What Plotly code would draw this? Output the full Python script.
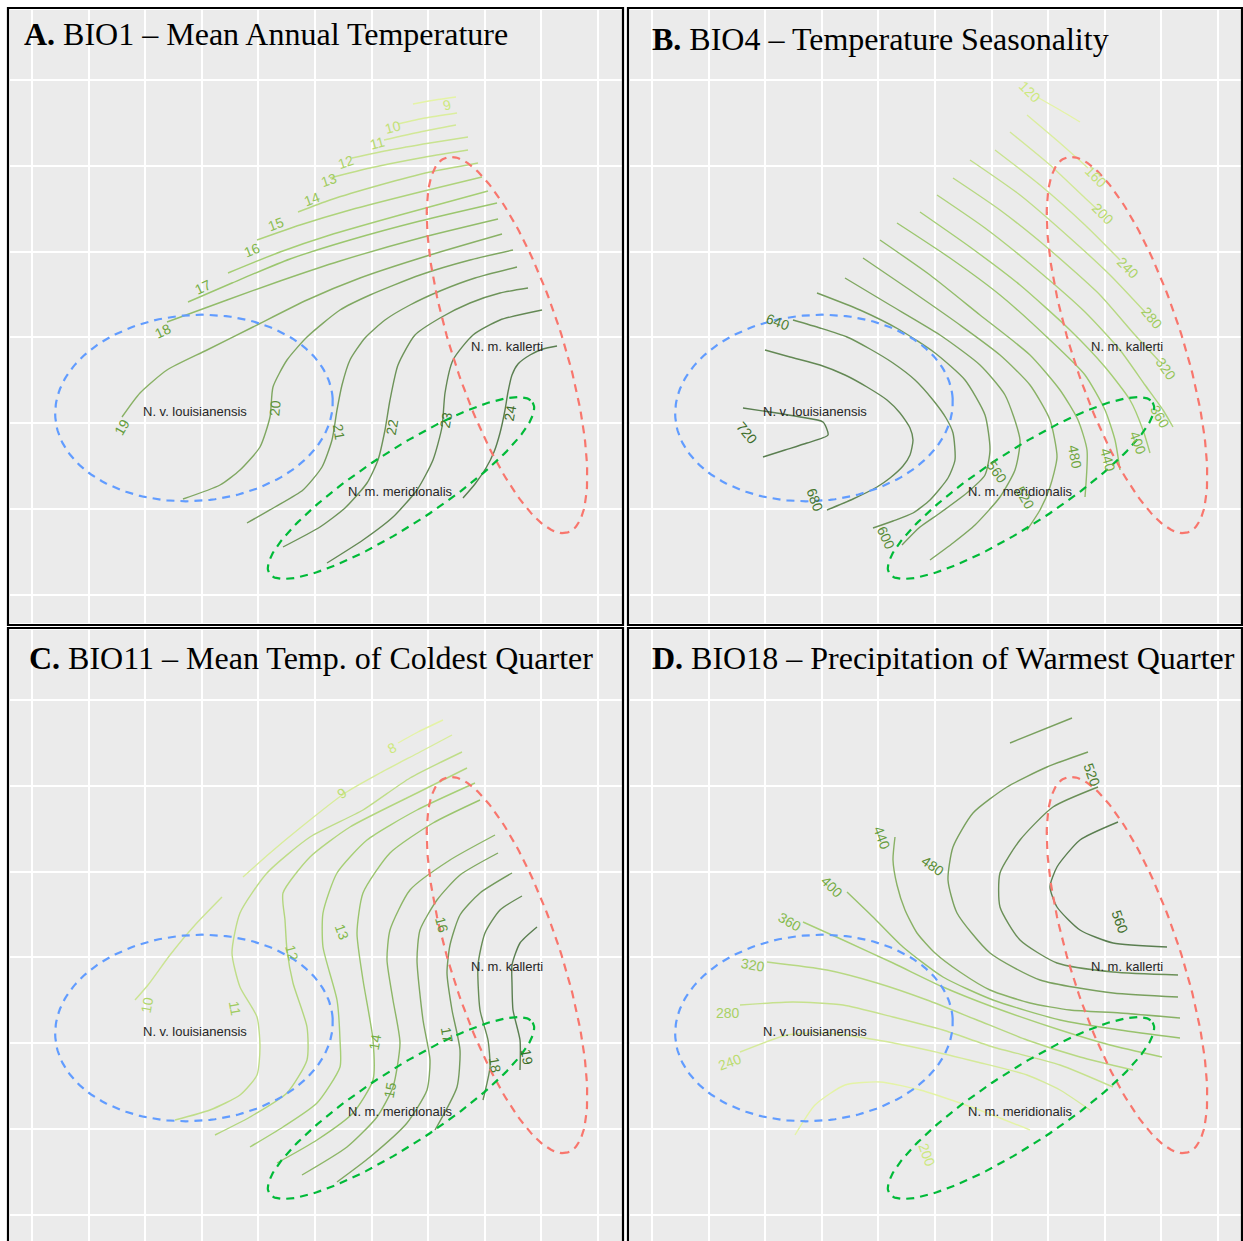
import math
import plotly.graph_objects as go

W, H = 1243, 1241

# ---------------- data (map grid units, identical extent in all four panels) ----------------
# BIO1 - mean annual temperature contours: level -> polyline
BIO1_LINES = {
    9: [(413, 104), (435, 100), (456, 97)],
    10: [(398, 124), (425, 118), (457, 113)],
    11: [(384, 140), (420, 132), (456, 125)],
    12: [(352, 158), (390, 150), (430, 143), (468, 137)],
    13: [(330, 178), (370, 168), (420, 158), (468, 150)],
    14: [(298, 212), (330, 200), (380, 185), (430, 172), (478, 163)],
    15: [(257, 240), (300, 225), (350, 210), (420, 192), (482, 177)],
    16: [(228, 273), (280, 252), (330, 235), (400, 215), (488, 191)],
    17: [(188, 302), (232, 283), (290, 259), (350, 240), (420, 221), (497, 203)],
    18: [(167, 322), (227, 300), (280, 281), (340, 261), (420, 238), (498, 219)],
    19: [(122, 417), (140, 393), (167, 370), (207, 350), (253, 327), (307, 300), (360, 278), (430, 255), (502, 234)],
    20: [(183, 499), (220, 485), (240, 470), (260, 447), (270, 417), (273, 387), (287, 360), (307, 337),
         (340, 310), (370, 295), (420, 275), (470, 260), (513, 250)],
    21: [(247, 523), (275, 507), (303, 490), (322, 467), (332, 440), (337, 410), (342, 385), (350, 360),
         (365, 338), (385, 320), (410, 305), (440, 291), (475, 278), (517, 267)],
    22: [(283, 547), (320, 527), (345, 508), (367, 483), (378, 460), (385, 430), (390, 400), (398, 365),
         (415, 335), (440, 318), (470, 303), (500, 293), (528, 288)],
    23: [(327, 563), (363, 540), (393, 517), (417, 490), (433, 460), (442, 427), (445, 393), (453, 360),
         (473, 335), (500, 320), (542, 310)],
    24: [(463, 498), (475, 484), (486, 468), (494, 452), (500, 433), (505, 410), (508, 392), (512, 375),
         (518, 364), (530, 355), (543, 349), (557, 346)],
}
BIO1_LABELS = [(9, 447, 105), (10, 393, 127), (11, 377, 143), (12, 346, 162), (13, 329, 180),
               (14, 312, 199), (15, 276, 224), (16, 252, 250), (17, 203, 287), (18, 163, 331),
               (19, 122, 427), (20, 275, 408), (21, 339, 432), (22, 392, 427), (23, 446, 420), (24, 510, 413)]
BIO1_LABEL_ANGLES = [-15, -15, -15, -18, -18, -20, -20, -22, -25, -25, -60, -85, 80, -80, -80, -80]

# BIO4 - temperature seasonality
BIO4_LINES = {
    120: [(417, 97), (440, 110), (460, 122)],
    160: [(407, 115), (440, 143), (468, 168)],
    200: [(390, 132), (430, 165), (465, 198), (478, 210)],
    240: [(375, 150), (420, 185), (465, 225), (500, 260)],
    280: [(350, 160), (400, 195), (450, 238), (490, 275), (525, 312)],
    320: [(333, 178), (380, 210), (430, 250), (480, 295), (515, 335), (540, 362)],
    360: [(317, 195), (365, 228), (415, 268), (465, 312), (500, 350), (525, 385), (543, 410), (553, 427)],
    400: [(300, 212), (350, 247), (400, 285), (450, 330), (485, 367), (510, 400), (523, 430), (530, 453)],
    440: [(277, 223), (330, 258), (380, 295), (430, 340), (465, 375), (485, 410), (495, 440), (500, 470)],
    480: [(260, 240), (310, 275), (360, 315), (410, 355), (440, 390), (458, 420), (467, 450), (465, 497)],
    520: [(243, 258), (290, 290), (340, 325), (380, 355), (410, 385), (430, 420), (437, 457), (430, 487),
          (420, 510), (407, 530)],
    560: [(225, 278), (270, 305), (320, 335), (360, 365), (385, 395), (400, 440), (395, 470), (380, 497),
          (355, 525), (333, 543), (310, 560)],
    600: [(197, 293), (240, 310), (280, 330), (315, 353), (345, 380), (365, 415), (370, 450), (365, 475),
          (348, 492), (320, 513), (300, 527), (282, 545)],
    640: [(173, 320), (200, 328), (227, 337), (250, 349), (273, 363), (295, 380), (313, 400), (326, 418),
          (333, 433), (335, 460), (328, 478), (310, 500), (293, 513), (273, 521), (253, 528)],
    680: [(145, 350), (170, 357), (200, 365), (225, 375), (247, 387), (267, 400), (280, 413), (290, 428),
          (293, 440), (290, 455), (283, 466), (270, 478), (257, 487), (233, 499), (207, 510)],
    720: [(123, 408), (150, 412), (180, 417), (203, 422), (208, 435), (187, 443), (165, 450), (143, 457)],
}
BIO4_LABELS = [(120, 410, 92), (160, 476, 177), (200, 483, 214), (240, 508, 268), (280, 532, 318),
               (320, 546, 369), (360, 540, 417), (400, 518, 443), (440, 488, 460), (480, 455, 457),
               (520, 405, 498), (560, 377, 472), (600, 266, 538), (640, 158, 322), (680, 195, 500),
               (720, 127, 433)]
BIO4_LABEL_ANGLES = [45, 45, 45, 45, 50, 55, 60, 70, 75, 80, 60, 55, 65, 20, 70, 50]

# BIO11 - mean temperature of coldest quarter
BIO11_LINES = {
    8: [(443, 100), (418, 112), (398, 123)],
    9: [(452, 115), (420, 132), (380, 153), (345, 173), (300, 208), (270, 233), (243, 257)],
    10: [(222, 277), (195, 305), (170, 335), (148, 365), (135, 380)],
    11: [(462, 132), (410, 158), (363, 190), (310, 217), (267, 253), (240, 293), (232, 333), (240, 367),
         (257, 397), (260, 427), (257, 455), (240, 475), (210, 490), (175, 500)],
    12: [(467, 148), (417, 173), (350, 207), (310, 237), (283, 273), (285, 300), (287, 330), (293, 363),
         (307, 407), (307, 440), (287, 473), (250, 497), (215, 515)],
    13: [(475, 163), (417, 190), (367, 220), (337, 253), (323, 293), (323, 327), (337, 380), (340, 420),
         (340, 447), (317, 483), (283, 507), (250, 527)],
    14: [(480, 180), (433, 203), (390, 233), (363, 273), (357, 313), (363, 360), (373, 420), (373, 460),
         (353, 493), (317, 520), (277, 543)],
    15: [(495, 215), (450, 240), (410, 270), (390, 310), (387, 340), (393, 380), (400, 423), (393, 467),
         (377, 497), (347, 527), (302, 555)],
    16: [(498, 233), (460, 255), (437, 280), (420, 310), (417, 340), (423, 400), (430, 440), (427, 470),
         (407, 503), (370, 537), (337, 562)],
    17: [(512, 253), (480, 273), (460, 295), (450, 325), (447, 353), (452, 390), (460, 430), (457, 467),
         (435, 510)],
    18: [(522, 276), (500, 290), (485, 313), (478, 345), (480, 390), (488, 420), (490, 447), (483, 480)],
    19: [(537, 307), (520, 323), (512, 345), (512, 363), (513, 390), (520, 420), (520, 450)],
}
BIO11_LABELS = [(8, 392, 128), (9, 342, 173), (10, 147, 385), (11, 235, 388), (12, 292, 333),
                (13, 342, 312), (14, 375, 422), (15, 390, 470), (16, 442, 305), (17, 447, 415),
                (18, 495, 445), (19, 527, 437)]
BIO11_LABEL_ANGLES = [-27, -35, -80, 80, 75, 70, -80, -80, 75, 80, 80, 80]

# BIO18 - precipitation of warmest quarter
BIO18_LINES = {
    200: [(175, 515), (195, 485), (225, 465), (260, 462), (300, 470), (340, 483), (380, 498), (410, 510)],
    240: [(120, 432), (167, 415), (207, 413), (257, 420), (307, 430), (357, 442), (407, 455), (440, 470),
          (470, 490)],
    280: [(120, 385), (173, 382), (223, 385), (273, 397), (323, 410), (373, 427), (440, 445), (493, 467)],
    320: [(147, 342), (207, 350), (257, 363), (307, 380), (357, 400), (407, 420), (460, 437), (513, 450)],
    360: [(183, 302), (223, 320), (273, 343), (323, 367), (373, 387), (440, 410), (490, 425), (542, 437)],
    400: [(227, 272), (253, 297), (283, 327), (323, 357), (373, 380), (440, 400), (500, 410), (560, 418)],
    440: [(275, 217), (273, 240), (277, 265), (285, 290), (297, 313), (315, 333), (340, 352), (370, 370),
          (410, 383), (450, 390), (500, 393), (560, 398)],
    480: [(468, 132), (427, 147), (387, 167), (353, 193), (333, 227), (328, 260), (337, 293), (370, 333),
          (420, 360), (493, 373), (558, 377)],
    520: [(478, 167), (433, 187), (400, 220), (380, 253), (380, 287), (400, 320), (437, 343), (493, 352),
          (558, 355)],
    560: [(498, 202), (460, 220), (437, 247), (430, 267), (437, 287), (460, 310), (493, 323), (547, 327)],
}
BIO18_EXTRA = [(480, [(390, 123), (452, 98)])]   # short unlabeled piece at the top
BIO18_LABELS = [(200, 307, 535), (240, 110, 442), (280, 108, 393), (320, 133, 345), (360, 170, 302),
                (400, 212, 267), (440, 262, 218), (480, 313, 246), (520, 472, 155), (560, 500, 302)]
BIO18_LABEL_ANGLES = [70, -20, 0, 10, 30, 45, 70, 35, 70, 70]

# occurrence ellipses of the three taxa: centre x, centre y, semi-major, semi-minor, tilt (deg)
TAXA = ["N. v. louisianensis", "N. m. kallerti", "N. m. meridionalis"]
ELL_CX = [194, 507, 401]
ELL_CY = [408, 345, 488]
ELL_A = [139, 197, 157]
ELL_B = [93, 55, 37]
ELL_TILT = [-4, 72, -33]
TAXA_LABEL_X = [195, 507, 400]
TAXA_LABEL_Y = [411, 346, 491]

TITLES = [("A.", "BIO1 – Mean Annual Temperature"),
          ("B.", "BIO4 – Temperature Seasonality"),
          ("C.", "BIO11 – Mean Temp. of Coldest Quarter"),
          ("D.", "BIO18 – Precipitation of Warmest Quarter")]

# ---------------- styling ----------------
TAXA_COLORS = ["#619CFF", "#F8766D", "#00BA38"]
LINE_STOPS = [(0.0, (228, 243, 165)), (0.5, (160, 203, 112)), (1.0, (90, 126, 80))]
LABEL_STOPS = [(0.0, (205, 232, 125)), (0.5, (122, 180, 70)), (1.0, (62, 110, 42))]


def ramp(t, stops):
    for (t0, c0), (t1, c1) in zip(stops, stops[1:]):
        if t <= t1:
            f = (t - t0) / (t1 - t0)
            return "rgb(%d,%d,%d)" % tuple(round(a + (b - a) * f) for a, b in zip(c0, c1))
    return "rgb(%d,%d,%d)" % stops[-1][1]


def px_x(p):
    return p / W


def px_y(p):
    return 1 - p / H


# page-pixel boxes of the grey map panels and their map-unit ranges
PANELS = [
    dict(xd=(10, 622), yd=(10, 623), xr=(10, 622), yr=(10, 623), lines=BIO1_LINES, extra=[],
         labels=BIO1_LABELS, angles=BIO1_LABEL_ANGLES, title=TITLES[0], tpos=(22, 34)),
    dict(xd=(630, 1243), yd=(10, 623), xr=(10, 623), yr=(10, 623), lines=BIO4_LINES, extra=[],
         labels=BIO4_LABELS, angles=BIO4_LABEL_ANGLES, title=TITLES[1], tpos=(650, 39)),
    dict(xd=(10, 622), yd=(630, 1241), xr=(10, 622), yr=(10, 621), lines=BIO11_LINES, extra=[],
         labels=BIO11_LABELS, angles=BIO11_LABEL_ANGLES, title=TITLES[2], tpos=(27, 658)),
    dict(xd=(630, 1243), yd=(630, 1241), xr=(10, 623), yr=(10, 621), lines=BIO18_LINES, extra=BIO18_EXTRA,
         labels=BIO18_LABELS, angles=BIO18_LABEL_ANGLES, title=TITLES[3], tpos=(650, 658)),
]
BORDERS = [(8, 8, 623, 625), (628, 8, 1242, 625), (8, 628, 623, 1245), (628, 628, 1242, 1245)]

fig = go.Figure()
annotations = []
layout = {}

for i, P in enumerate(PANELS):
    n = "" if i == 0 else str(i + 1)
    xa, ya = "x" + n, "y" + n
    layout["xaxis" + n] = dict(domain=[px_x(P["xd"][0]), px_x(P["xd"][1])], range=list(P["xr"]),
                               showticklabels=False, ticks="", zeroline=False, showline=False,
                               showgrid=True, gridcolor="white", gridwidth=1.6,
                               tick0=32, dtick=56.6, anchor=ya, fixedrange=True)
    layout["yaxis" + n] = dict(domain=[px_y(P["yd"][1]), px_y(P["yd"][0])], range=[P["yr"][1], P["yr"][0]],
                               showticklabels=False, ticks="", zeroline=False, showline=False,
                               showgrid=True, gridcolor="white", gridwidth=1.6,
                               tick0=80, dtick=85.83, anchor=xa, fixedrange=True)
    levels = sorted(P["lines"].keys())
    lo, hi = levels[0], levels[-1]

    def tnorm(v):
        return (v - lo) / (hi - lo)

    for lev in levels:
        pts = P["lines"][lev]
        fig.add_trace(go.Scatter(x=[p[0] for p in pts], y=[p[1] for p in pts], mode="lines",
                                 line=dict(color=ramp(tnorm(lev), LINE_STOPS), width=1.4, shape="spline",
                                           smoothing=0.6),
                                 hoverinfo="skip", showlegend=False, xaxis=xa, yaxis=ya))
    for lev, pts in P["extra"]:
        fig.add_trace(go.Scatter(x=[p[0] for p in pts], y=[p[1] for p in pts], mode="lines",
                                 line=dict(color=ramp(tnorm(lev), LINE_STOPS), width=1.4),
                                 hoverinfo="skip", showlegend=False, xaxis=xa, yaxis=ya))
    # taxon ellipses
    for k in range(len(TAXA)):
        th = math.radians(ELL_TILT[k])
        ts = [2 * math.pi * j / 180 for j in range(181)]
        ex = [ELL_CX[k] + ELL_A[k] * math.cos(t) * math.cos(th) - ELL_B[k] * math.sin(t) * math.sin(th) for t in ts]
        ey = [ELL_CY[k] + ELL_A[k] * math.cos(t) * math.sin(th) + ELL_B[k] * math.sin(t) * math.cos(th) for t in ts]
        fig.add_trace(go.Scatter(x=ex, y=ey, mode="lines",
                                 line=dict(color=TAXA_COLORS[k], width=2.2, dash="8px,6px"),
                                 hoverinfo="skip", showlegend=False, xaxis=xa, yaxis=ya))
        annotations.append(dict(x=TAXA_LABEL_X[k], y=TAXA_LABEL_Y[k], xref=xa, yref=ya, text=TAXA[k],
                                showarrow=False, font=dict(family="Liberation Sans, Arial", size=13,
                                                           color="#262626")))
    # contour labels
    for (lev, lx, ly), ang in zip(P["labels"], P["angles"]):
        annotations.append(dict(x=lx, y=ly, xref=xa, yref=ya, text=str(lev), showarrow=False,
                                textangle=ang,
                                font=dict(family="Liberation Sans, Arial", size=14,
                                          color=ramp(tnorm(lev), LABEL_STOPS))))
    # panel title
    letter, rest = P["title"]
    annotations.append(dict(x=px_x(P["tpos"][0]), y=px_y(P["tpos"][1]), xref="paper", yref="paper",
                            xanchor="left", yanchor="middle", showarrow=False,
                            text="<b>%s</b> %s" % (letter, rest),
                            font=dict(family="Liberation Serif, Times New Roman", size=32, color="black")))

shapes = []
for (x0, y0, x1, y1) in BORDERS:
    shapes.append(dict(type="rect", xref="paper", yref="paper", x0=px_x(x0), x1=px_x(x1),
                       y0=px_y(y1), y1=px_y(y0), line=dict(color="black", width=2.2),
                       fillcolor="rgba(0,0,0,0)", layer="above"))

fig.update_layout(width=W, height=H, margin=dict(l=0, r=0, t=0, b=0), paper_bgcolor="white",
                  plot_bgcolor="#EBEBEB", showlegend=False, annotations=annotations, shapes=shapes,
                  **layout)

fig.write_html("out.html", config={"displayModeBar": False},
               post_script="document.body.style.margin='0px';document.body.style.overflow='hidden';")
